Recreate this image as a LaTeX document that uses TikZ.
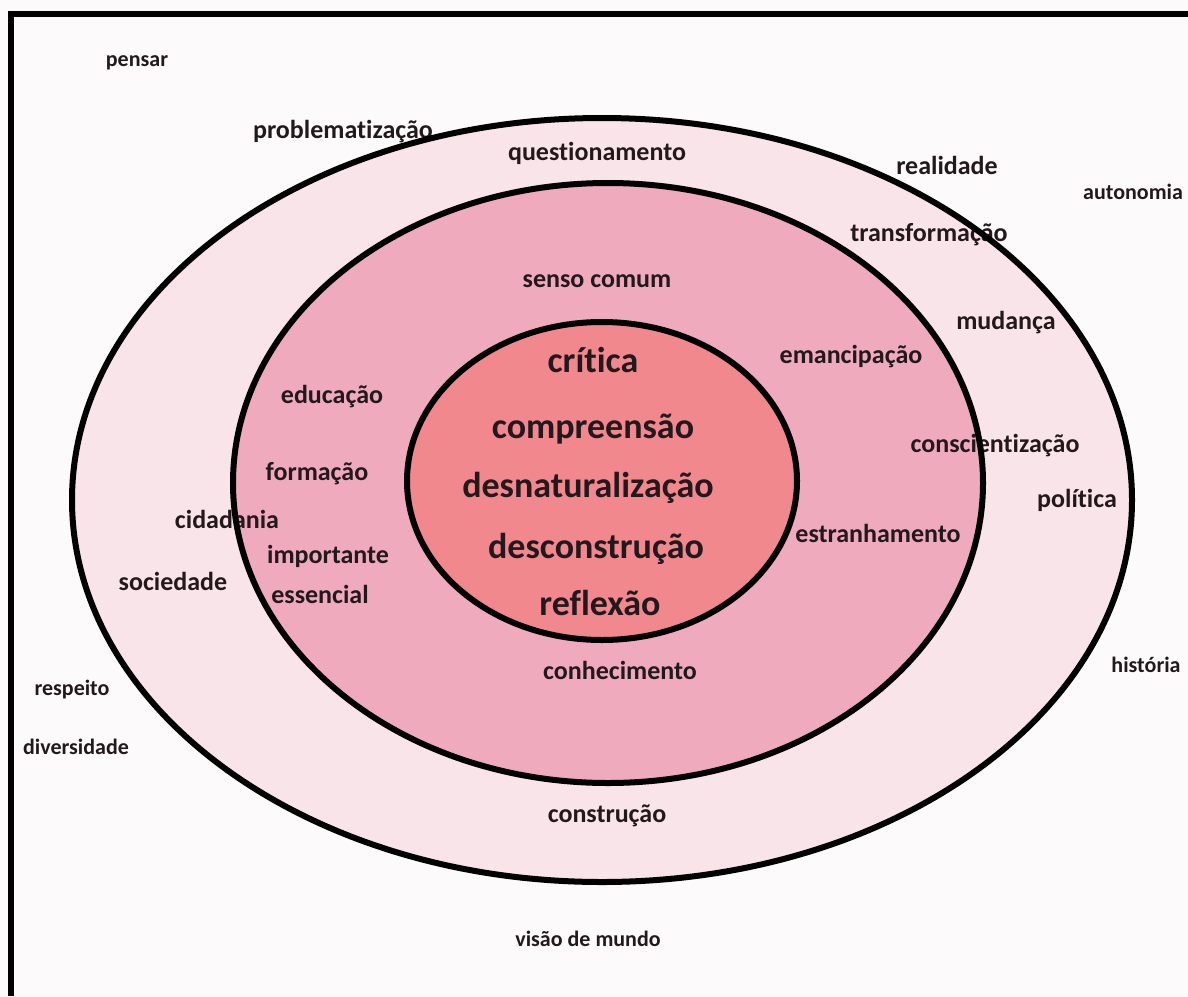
\documentclass[tikz,border=0pt]{standalone}
\usepackage{fontspec}
\setmainfont{Carlito}[RawFeature={-liga,-clig,-calt,-dlig}]
\usepackage{tikz}
\usepackage{xcolor}
\usetikzlibrary{positioning}

\definecolor{paper}{RGB}{253,250,251}
\definecolor{ringout}{RGB}{249,228,234}
\definecolor{ringmid}{RGB}{239,170,190}
\definecolor{ringin}{RGB}{241,136,142}
\definecolor{ink}{RGB}{35,24,28}

\tikzset{
  word/.style={anchor=base, inner sep=0pt, text=ink, font=\bfseries},
  wsmall/.style={word, font=\fontsize{22}{26}\selectfont\bfseries},
  wmed/.style={word, font=\fontsize{26}{30}\selectfont\bfseries},
  wbig/.style={word, font=\fontsize{36}{42}\selectfont\bfseries},
  ring/.style={line width=6pt}
}

\begin{document}
\begin{tikzpicture}[x=1pt,y=-1pt]
\useasboundingbox (0,0) rectangle (1188,996);
\fill [paper] (0,0) rectangle (1188,996);

% fills of the three rings
\fill [ringout] (602,500) ellipse [x radius=530pt, y radius=382pt];
\fill [ringmid] (608,483) ellipse [x radius=375pt, y radius=300pt];
\fill [ringin] (602,481) ellipse [x radius=195pt, y radius=159pt];

% outside the rings
\node [wsmall] (pensar) at (137,66) {pensar};
\node [wsmall] (autonomia) at (1133,199) {autonomia};
\node [wsmall] (respeito) at (72,695) {respeito};
\node [wsmall] (diversidade) at (76,754) {diversidade};
\node [wsmall] (historia) at (1146,672) {história};
\node [wsmall] (visao) at (588,946) {visão de mundo};

% outer ring
\node [wmed] (problem) at (343,138) {problematização};
\node [wmed] (question) at (597,160) {questionamento};
\node [wmed] (realidade) at (947,174) {realidade};
\node [wmed] (transf) at (929,241) {transformação};
\node [wmed] (mudanca) at (1006,329) {mudança};
\node [wmed] (politica) at (1077,507) {política};
\node [wmed] (cidadania) at (227,528) {cidadania};
\node [wmed] (sociedade) at (173,590) {sociedade};
\node [wmed] (construcao) at (607,822) {construção};

% middle ring
\node [wmed] (senso) at (597,287) {senso comum};
\node [wmed] (emancip) at (851,363) {emancipação};
\node [wmed] (conscient) at (995,452) {conscientização};
\node [wmed] (estranh) at (878,542) {estranhamento};
\node [wmed] (educacao) at (332,403) {educação};
\node [wmed] (formacao) at (317,480) {formação};
\node [wmed] (importante) at (328,563) {importante};
\node [wmed] (essencial) at (320,603) {essencial};
\node [wmed] (conhec) at (620,679) {conhecimento};

% inner ring
\node [wbig] (critica) at (593,372) {crítica};
\node [wbig] (compreensao) at (593,438) {compreensão};
\node [wbig] (desnat) at (588,497) {desnaturalização};
\node [wbig] (descons) at (596,558) {desconstrução};
\node [wbig] (reflexao) at (600,615) {reflexão};

% outlines on top of the words
\draw [ring] (602,500) ellipse [x radius=530pt, y radius=382pt];
\draw [ring] (608,483) ellipse [x radius=375pt, y radius=300pt];
\draw [ring] (602,481) ellipse [x radius=195pt, y radius=159pt];

% frame
\draw [line width=6pt] (11,996) -- (11,14) -- (1188,14);
\end{tikzpicture}
\end{document}
